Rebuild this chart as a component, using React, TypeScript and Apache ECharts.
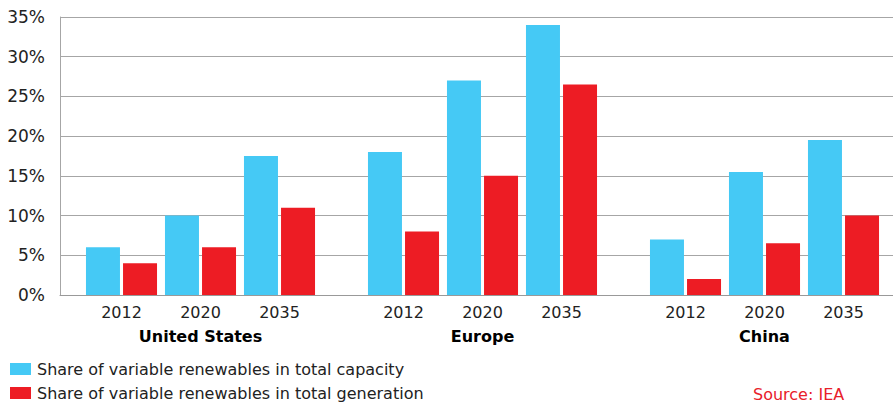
import React, { useEffect, useRef } from "react";
import * as echarts from "echarts";

const years = ["2012", "2020", "2035"];
const regions = ["United States", "Europe", "China"];
const capacityUS = [6, 10, 17.5];
const generationUS = [4, 6, 11];
const capacityEU = [18, 27, 34];
const generationEU = [8, 15, 26.5];
const capacityCN = [7, 15.5, 19.5];
const generationCN = [2, 6.5, 10];
const capacityName = "Share of variable renewables in total capacity";
const generationName = "Share of variable renewables in total generation";
const sourceText = "Source: IEA";
const yMax = 35;
const yStep = 5;

const FONT = "'DejaVu Sans', Verdana, sans-serif";
const BLUE = "#45C9F5";
const RED = "#ED1C24";

export default function App() {
  const ref = useRef<HTMLDivElement>(null);
  useEffect(() => {
    if (!ref.current) return;
    const chart = echarts.init(ref.current, null, { renderer: "svg" });
    const capacity = [capacityUS, capacityEU, capacityCN];
    const generation = [generationUS, generationEU, generationCN];
    const regionLefts = [82, 364, 646];
    const top = 17;
    const bottom = 108;

    const grids: any[] = [{ left: 60, right: 0, top, bottom }];
    const xAxes: any[] = [
      {
        gridIndex: 0,
        type: "category",
        data: [""],
        axisLine: { show: true, lineStyle: { color: "#999999", width: 1 } },
        axisTick: { show: false },
        axisLabel: { show: false },
      },
    ];
    const yAxes: any[] = [
      {
        gridIndex: 0,
        type: "value",
        min: 0,
        max: yMax,
        interval: yStep,
        axisLine: { show: true, lineStyle: { color: "#A6A6A6", width: 1 } },
        axisTick: { show: false },
        axisLabel: {
          formatter: "{value}%",
          fontFamily: FONT,
          fontSize: 17,
          color: "#222222",
          margin: 15,
        },
        splitLine: { show: true, lineStyle: { color: "#A6A6A6", width: 1 } },
      },
    ];
    const series: any[] = [];
    regions.forEach((r, i) => {
      grids.push({ left: regionLefts[i], width: 237, top, bottom });
      xAxes.push({
        gridIndex: i + 1,
        type: "category",
        data: years,
        name: r,
        nameLocation: "middle",
        nameGap: 33,
        nameTextStyle: {
          fontFamily: FONT,
          fontSize: 16,
          fontWeight: "bold",
          color: "#000000",
        },
        axisLine: { show: false },
        axisTick: { show: false },
        axisLabel: {
          fontFamily: FONT,
          fontSize: 16,
          color: "#222222",
          margin: 9,
        },
      });
      yAxes.push({
        gridIndex: i + 1,
        type: "value",
        min: 0,
        max: yMax,
        interval: yStep,
        show: false,
        splitLine: { show: false },
      });
      series.push({
        name: capacityName,
        type: "bar",
        xAxisIndex: i + 1,
        yAxisIndex: i + 1,
        data: capacity[i],
        barWidth: 34,
        barGap: "9%",
        itemStyle: { color: BLUE },
      });
      series.push({
        name: generationName,
        type: "bar",
        xAxisIndex: i + 1,
        yAxisIndex: i + 1,
        data: generation[i],
        barWidth: 34,
        barGap: "9%",
        itemStyle: { color: RED },
      });
    });

    chart.setOption({
      animation: false,
      backgroundColor: "#ffffff",
      grid: grids,
      xAxis: xAxes,
      yAxis: yAxes,
      series,
      legend: {
        data: [capacityName, generationName],
        orient: "vertical",
        left: 10,
        top: 361,
        icon: "rect",
        itemWidth: 21,
        itemHeight: 12,
        itemGap: 8,
        padding: 0,
        selectedMode: false,
        textStyle: {
          fontFamily: FONT,
          fontSize: 16,
          color: "#222222",
          padding: [0, 0, 0, 1],
        },
      },
      graphic: [
        {
          type: "text",
          left: 753,
          top: 386,
          style: {
            text: sourceText,
            fontFamily: FONT,
            fontSize: 16,
            fill: "#E8202A",
          },
        },
      ],
    });
    return () => chart.dispose();
  }, []);
  return (
    <div
      ref={ref}
      style={{ position: "absolute", left: 0, top: 0, width: 893, height: 403 }}
    />
  );
}
